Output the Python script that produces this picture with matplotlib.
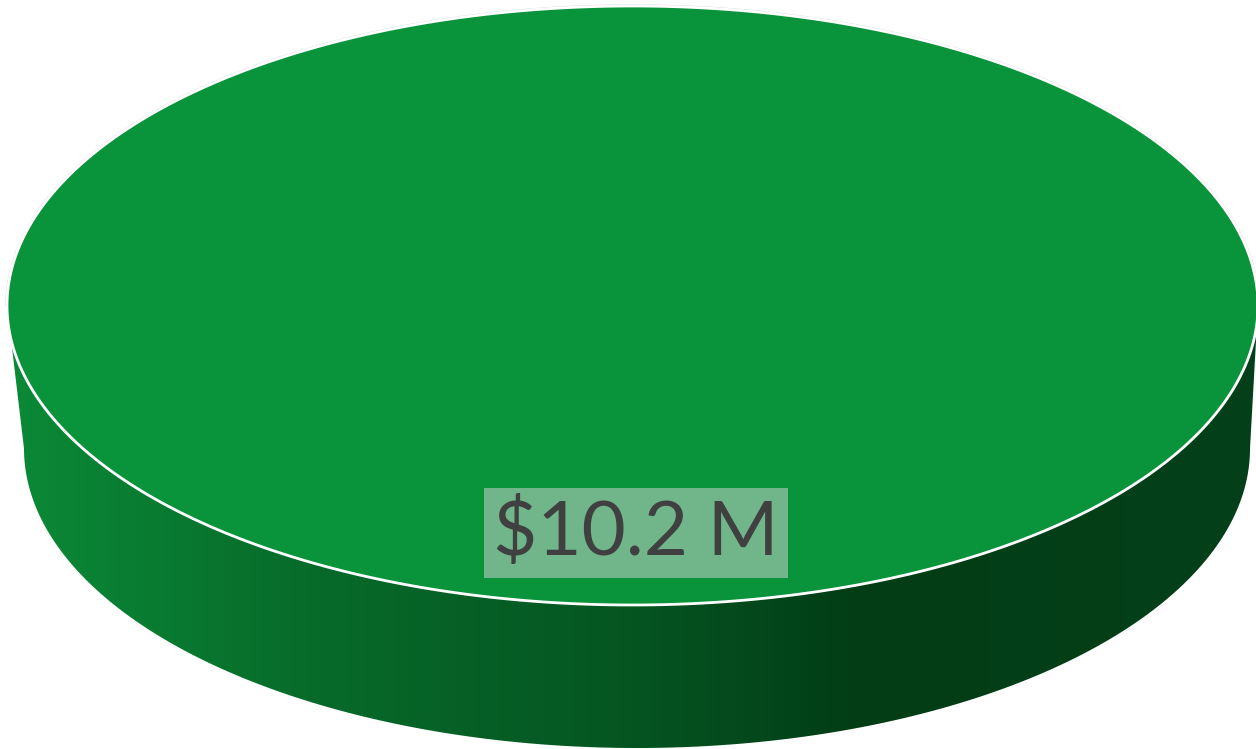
import matplotlib
matplotlib.use("Agg")
import matplotlib.pyplot as plt
import numpy as np
from matplotlib.patches import Polygon
from matplotlib.colors import LinearSegmentedColormap

# data
values = [10.2]            # $ millions
labels = ["$10.2 M"]
colors = ["#09933a"]

W, H = 1256, 749
fig = plt.figure(figsize=(W / 100, H / 100), dpi=100)
ax = fig.add_axes([0, 0, 1, 1])
ax.set_xlim(0, W)
ax.set_ylim(H, 0)
ax.axis("off")

# pie geometry (pixels)
cx, cy, rx, ry = 632.5, 305.5, 625.5, 299.5
cxb, cyb, rxb, ryb = 637, 448.5, 613, 299.5

def ell(cx0, cy0, rx0, ry0, t):
    return cx0 + rx0 * np.cos(t), cy0 + ry0 * np.sin(t)

# side (front half), shaded horizontally
t = np.linspace(0, np.pi, 400)
xt, yt = ell(cx, cy, rx, ry, t)
xb, yb = ell(cxb, cyb, rxb, ryb, t)
side = np.vstack([np.column_stack([xt, yt]), np.column_stack([xb, yb])[::-1]])
side_patch = Polygon(side, closed=True, fc="none", ec="none")
ax.add_patch(side_patch)

stops = [(0.0, "#0b8a37"), (0.25, "#076a2a"), (0.5, "#055521"),
         (0.68, "#023d16"), (1.0, "#044019")]
cmap = LinearSegmentedColormap.from_list("side", stops)
grad = np.linspace(0, 1, 512).reshape(1, -1)
im = ax.imshow(grad, cmap=cmap, extent=[cx - rx, cx + rx, cyb + ryb, cy - ry],
               aspect="auto", zorder=1)
im.set_clip_path(side_patch)

# top face, one wedge per value
total = sum(values)
start = 0.0
for v, c in zip(values, colors):
    span = 2 * np.pi * v / total
    tt = np.linspace(start, start + span, 600)
    px, py = ell(cx, cy, rx, ry, tt)
    pts = np.column_stack([px, py])
    if span < 2 * np.pi - 1e-9:
        pts = np.vstack([[cx, cy], pts])
    ax.add_patch(Polygon(pts, closed=True, fc=c, ec="white", lw=2, zorder=2))
    start += span

# faint outline on the back edge
tb = np.linspace(np.pi, 2 * np.pi, 400)
bx, by = ell(cx, cy, rx + 1, ry + 1, tb)
ax.plot(bx, by, color="#d8d8d8", lw=1, zorder=1.5)

# label
ax.text(636, 533, labels[0], ha="center", va="center", fontsize=55,
        family="Lato", color="#404040", zorder=3,
        bbox=dict(boxstyle="square,pad=0.12", fc="#70b68a", ec="none"))

fig.savefig("out.png", dpi=100)
